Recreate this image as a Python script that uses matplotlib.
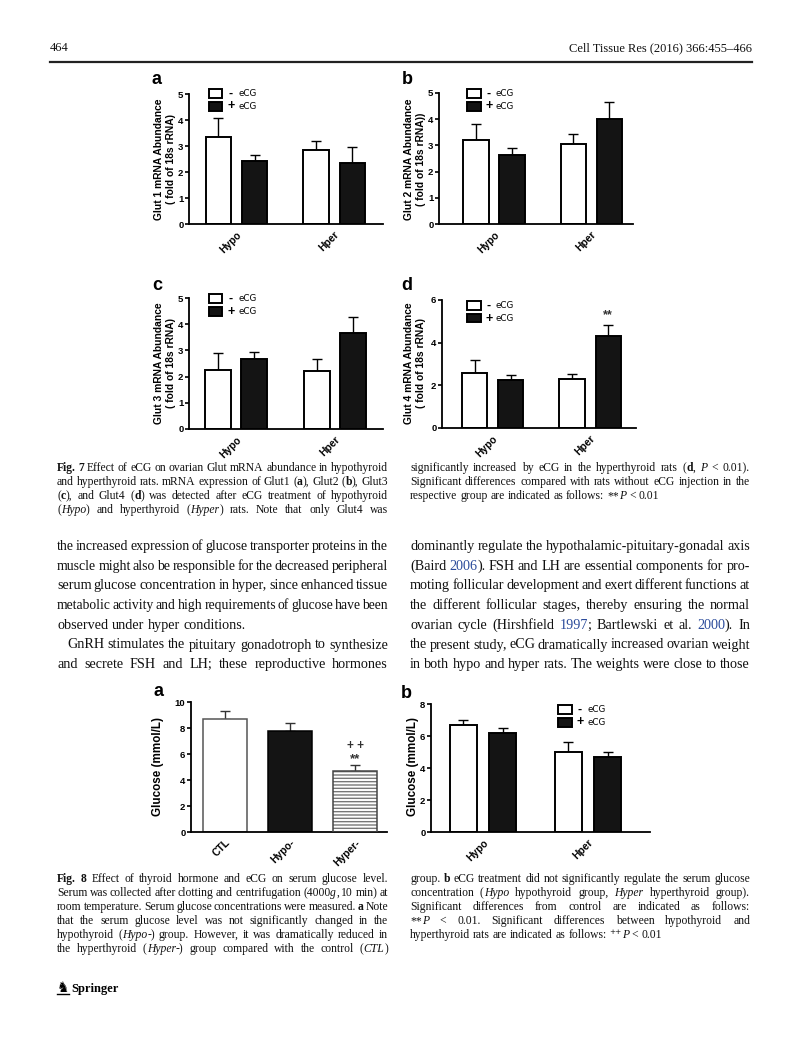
import matplotlib
matplotlib.use("Agg")
import matplotlib.pyplot as plt
import numpy as np
from matplotlib.patches import Rectangle
from matplotlib.lines import Line2D

W, H = 793, 1054

# Fig. 7 data (mean, upper SEM)
groups = ["Hypo", "Hper"]
glut1_minus = [3.33, 2.86]
glut1_minus_err = [0.73, 0.34]
glut1_plus = [2.42, 2.33]
glut1_plus_err = [0.22, 0.64]

glut2_minus = [3.21, 3.05]
glut2_minus_err = [0.60, 0.39]
glut2_plus = [2.64, 3.99]
glut2_plus_err = [0.25, 0.68]

glut3_minus = [2.25, 2.22]
glut3_minus_err = [0.65, 0.45]
glut3_plus = [2.66, 3.65]
glut3_plus_err = [0.27, 0.61]

glut4_minus = [2.58, 2.31]
glut4_minus_err = [0.59, 0.20]
glut4_plus = [2.23, 4.30]
glut4_plus_err = [0.24, 0.55]

# Fig. 8 data
glucose_groups = ["CTL", "Hypo-", "Hyper-"]
glucose_means = [8.66, 7.78, 4.66]
glucose_err = [0.67, 0.57, 0.47]

glucose_ecg_minus = [6.68, 4.99]
glucose_ecg_minus_err = [0.33, 0.61]
glucose_ecg_plus = [6.16, 4.70]
glucose_ecg_plus_err = [0.37, 0.33]

SANS = "Liberation Sans"
SERIF = ["Liberation Serif", "DejaVu Serif"]

fig = plt.figure(figsize=(W / 100, H / 100), dpi=100)
renderer = fig.canvas.get_renderer()


def fx(x):
    return x / W


def fy(y):
    return 1 - y / H


def make_axes(left, top, right, bottom):
    return fig.add_axes([fx(left), fy(bottom), (right - left) / W, (bottom - top) / H])


def style_axes(ax, ymax, step, labels, xlim):
    ax.set_ylim(0, ymax)
    ax.set_xlim(*xlim)
    ticks = np.arange(0, ymax + 0.01, step)
    ax.set_yticks(ticks)
    ax.set_yticklabels([str(int(t)) for t in ticks], fontfamily=SANS,
                       fontweight="bold", fontsize=6.8)
    ax.set_xticks(range(len(labels)))
    ax.set_xticklabels(labels, rotation=45, ha="right", rotation_mode="anchor",
                       fontfamily=SANS, fontweight="bold", fontsize=7.4)
    for s in ["top", "right"]:
        ax.spines[s].set_visible(False)
    for s in ["left", "bottom"]:
        ax.spines[s].set_linewidth(1.3)
    ax.tick_params(axis="y", length=3, width=1.2, pad=1)
    ax.tick_params(axis="x", length=0, pad=4)


def grouped(ax, minus, minus_err, plus, plus_err, off, width):
    x = np.arange(len(minus))
    ax.bar(x - off, minus, width, color="white", edgecolor="black", linewidth=1.4, zorder=2)
    ax.bar(x + off, plus, width, color="#141414", edgecolor="black", linewidth=1.4, zorder=2)
    ax.errorbar(x - off, minus, yerr=[np.zeros(len(minus)), minus_err], fmt="none",
                ecolor="black", elinewidth=1, capsize=3.4, capthick=1, zorder=1)
    ax.errorbar(x + off, plus, yerr=[np.zeros(len(plus)), plus_err], fmt="none",
                ecolor="black", elinewidth=1, capsize=3.4, capthick=1, zorder=1)


def legend_px(x, y):
    # small hand-drawn key: white box "- eCG", black box "+ eCG"
    for i, (fc, sign) in enumerate([("white", "-"), ("#141414", "+")]):
        yy = y + i * 13
        fig.add_artist(Rectangle((fx(x), fy(yy + 8.5)), 13.5 / W, 8.5 / H,
                                 facecolor=fc, edgecolor="black", linewidth=1.4))
        fig.text(fx(x + 22), fy(yy + 4.5), sign, fontfamily=SANS, fontweight="bold",
                 fontsize=9, ha="center", va="center")
        fig.text(fx(x + 29), fy(yy + 4.5), "eCG", fontfamily="DejaVu Sans",
                 fontsize=6.3, ha="left", va="center")


def ylabel_px(x, y, text, size=7.4):
    fig.text(fx(x), fy(y), text, rotation=90, ha="center", va="center",
             fontfamily=SANS, fontweight="bold", fontsize=size, linespacing=1.15)


def letter_px(x, y, s):
    fig.text(fx(x), fy(y), s, ha="center", va="center", fontfamily=SANS,
             fontweight="bold", fontsize=13)


# ---------- Fig. 7 ----------
off, bw = 0.185, 0.26
panels = [
    ((189, 94, 383, 224), 5, 1, (-0.487, 1.50), (glut1_minus, glut1_minus_err, glut1_plus, glut1_plus_err),
     "Glut 1 mRNA Abundance\n( fold of 18s rRNA)", (165, 159), (157, 80), "a", (209, 89)),
    ((439, 93, 633, 224), 5, 1, (-0.567, 1.43), (glut2_minus, glut2_minus_err, glut2_plus, glut2_plus_err),
     "Glut 2 mRNA Abundance\n( fold of 18s rRNA))", (415, 159), (407, 79), "b", (467, 89)),
    ((189, 298, 383, 429), 5, 1, (-0.475, 1.485), (glut3_minus, glut3_minus_err, glut3_plus, glut3_plus_err),
     "Glut 3 mRNA Abundance\n( fold of 18s rRNA)", (165, 363), (157, 286), "c", (209, 294)),
    ((442, 300, 636, 428), 6, 2, (-0.52, 1.47), (glut4_minus, glut4_minus_err, glut4_plus, glut4_plus_err),
     "Glut 4 mRNA Abundance\n( fold of 18s rRNA)", (415, 363), (407, 285), "d", (467, 301)),
]
axes7 = []
for rect, ymax, step, xlim, data, ylab, ylpos, lpos, letter, legpos in panels:
    ax = make_axes(*rect)
    grouped(ax, *data, off=off, width=bw)
    style_axes(ax, ymax, step, groups, xlim)
    ylabel_px(*ylpos, ylab)
    letter_px(*lpos, letter)
    legend_px(*legpos)
    axes7.append(ax)

# significance mark on Glut4, Hper + eCG
axes7[3].text(1 + off, 5.3, "**", ha="center", va="center", fontfamily=SANS,
              fontweight="bold", fontsize=9, color="#333333")

# ---------- Fig. 8a ----------
ax8a = make_axes(191, 702, 387, 832)
xa = np.arange(len(glucose_groups))
ax8a.bar(xa[:2], glucose_means[:2], 0.68, color=["white", "#141414"],
         edgecolor=["#555555", "black"], linewidth=1.1, zorder=2)
ax8a.bar(xa[2], glucose_means[2], 0.68, color="white", edgecolor="#777777",
         hatch="-----", linewidth=0, zorder=2)
ax8a.bar(xa[2], glucose_means[2], 0.68, color="none", edgecolor="#444444",
         linewidth=1.1, zorder=3)
ax8a.errorbar(xa, glucose_means, yerr=[np.zeros(3), glucose_err], fmt="none",
              ecolor="#333333", elinewidth=1, capsize=3.6, capthick=1, zorder=1)
style_axes(ax8a, 10, 2, glucose_groups, (-0.523, 2.49))
ax8a.text(xa[2], 5.62, "**", ha="center", va="center", fontfamily=SANS,
          fontweight="bold", fontsize=9.5, color="#333333")
ax8a.text(xa[2], 6.62, "+ +", ha="center", va="center", fontfamily=SANS,
          fontweight="bold", fontsize=8.5, color="#333333")
ylabel_px(158, 767, "Glucose (mmol/L)", size=8.4)
letter_px(158, 692, "a")

# ---------- Fig. 8b ----------
ax8b = make_axes(431, 704, 650, 832)
grouped(ax8b, glucose_ecg_minus, glucose_ecg_minus_err, glucose_ecg_plus,
        glucose_ecg_plus_err, off=0.186, width=0.257)
style_axes(ax8b, 8, 2, groups, (-0.495, 1.59))
ylabel_px(413, 767, "Glucose (mmol/L)", size=8.4)
letter_px(406, 693, "b")
legend_px(558, 705)


# ---------- page text ----------
def parse(s):
    runs, buf = [], ""
    style = {"b": False, "i": False, "c": False}
    marks = {"@": "b", "~": "i", "^": "c"}
    for ch in s:
        if ch in marks:
            if buf:
                runs.append((buf, dict(style)))
            buf = ""
            style[marks[ch]] = not style[marks[ch]]
        else:
            buf += ch
    if buf:
        runs.append((buf, dict(style)))
    return runs


def split_words(s):
    words, cur = [], []
    for txt, st in parse(s):
        parts = txt.split(" ")
        for i, p in enumerate(parts):
            if i > 0 and cur:
                words.append(cur)
                cur = []
            if p:
                cur.append((p, st))
    if cur:
        words.append(cur)
    return words


def build(words, y, size):
    objs, widths = [], []
    for w in words:
        wo, ww = [], 0
        for txt, st in w:
            t = fig.text(0, fy(y), txt, fontfamily=SERIF, fontsize=size,
                         fontweight="bold" if st["b"] else "normal",
                         fontstyle="italic" if st["i"] else "normal",
                         color="#2b4b9b" if st["c"] else "#111111", va="baseline")
            wd = t.get_window_extent(renderer).width
            wo.append((t, wd))
            ww += wd
        objs.append(wo)
        widths.append(ww)
    return objs, widths


def text_line(s, x0, x1, y, size, justify=True, indent=0):
    words = split_words(s)
    start = x0 + indent
    n = len(words)
    while True:
        objs, widths = build(words, y, size)
        space = size * 0.25 * 100 / 72
        total = sum(widths)
        if n > 1 and total + 0.4 * space * (n - 1) > x1 - start and size > 5:
            for wo in objs:
                for t, _ in wo:
                    t.remove()
            size *= 0.98
            continue
        break
    if justify and n > 1:
        gap = (x1 - start - total) / (n - 1)
    else:
        gap = space
    x = start
    for wo, ww in zip(objs, widths):
        xx = x
        for t, wd in wo:
            t.set_x(fx(xx))
            xx += wd
        x += ww + gap


def paragraph(lines, x0, x1, y0, dy, size, last_left=(), indents=None):
    for i, ln in enumerate(lines):
        ind = indents.get(i, 0) if indents else 0
        text_line(ln, x0, x1, y0 + i * dy, size, justify=i not in last_left, indent=ind)


LX0, LX1, RX0, RX1 = 57, 388, 410, 750

# header
fig.text(fx(50), fy(51), "464", fontfamily=SERIF, fontsize=9, va="baseline", color="#111111")
fig.text(fx(752), fy(51), "Cell Tissue Res (2016) 366:455\u2013466", fontfamily=SERIF,
         fontsize=9, va="baseline", ha="right", color="#111111")
fig.add_artist(Line2D([fx(50), fx(752)], [fy(62), fy(62)], color="#222222", linewidth=1.6))

fig7_left = [
    "@Fig. 7@  Effect of eCG on ovarian Glut mRNA abundance in hypothyroid",
    "and hyperthyroid rats. mRNA expression of Glut1 (@a@), Glut2 (@b@), Glut3",
    "(@c@), and Glut4 (@d@) was detected after eCG treatment of hypothyroid",
    "(~Hypo~) and hyperthyroid (~Hyper~) rats. Note that only Glut4 was",
]
fig7_right = [
    "significantly increased by eCG in the hyperthyroid rats (@d@, ~P~ < 0.01).",
    "Significant differences compared with rats without eCG injection in the",
    "respective group are indicated as follows: **~P~ < 0.01",
]
paragraph(fig7_left, LX0, LX1, 471, 14, 8.4)
paragraph(fig7_right, RX0, RX1, 471, 14, 8.4, last_left=(2,))

body_left = [
    "the increased expression of glucose transporter proteins in the",
    "muscle might also be responsible for the decreased peripheral",
    "serum glucose concentration in hyper, since enhanced tissue",
    "metabolic activity and high requirements of glucose have been",
    "observed under hyper conditions.",
    "GnRH stimulates the pituitary gonadotroph to synthesize",
    "and secrete FSH and LH; these reproductive hormones",
]
body_right = [
    "dominantly regulate the hypothalamic-pituitary-gonadal axis",
    "(Baird ^2006^). FSH and LH are essential components for pro-",
    "moting follicular development and exert different functions at",
    "the different follicular stages, thereby ensuring the normal",
    "ovarian cycle (Hirshfield ^1997^; Bartlewski et al. ^2000^). In",
    "the present study, eCG dramatically increased ovarian weight",
    "in both hypo and hyper rats. The weights were close to those",
]
paragraph(body_left, LX0, LX1, 550, 19.7, 10.2, last_left=(4,), indents={5: 10})
paragraph(body_right, RX0, RX1, 550, 19.7, 10.2)

fig8_left = [
    "@Fig. 8@  Effect of thyroid hormone and eCG on serum glucose level.",
    "Serum was collected after clotting and centrifugation (4000~g~, 10 min) at",
    "room temperature. Serum glucose concentrations were measured. @a@ Note",
    "that the serum glucose level was not significantly changed in the",
    "hypothyroid (~Hypo~-) group. However, it was dramatically reduced in",
    "the hyperthyroid (~Hyper~-) group compared with the control (~CTL~)",
]
fig8_right = [
    "group. @b@ eCG treatment did not significantly regulate the serum glucose",
    "concentration (~Hypo~ hypothyroid group, ~Hyper~ hyperthyroid group).",
    "Significant differences from control are indicated as follows:",
    "**~P~ < 0.01. Significant differences between hypothyroid and",
    "hyperthyroid rats are indicated as follows: \u207a\u207a~P~ < 0.01",
]
paragraph(fig8_left, LX0, LX1, 882, 14, 8.4)
paragraph(fig8_right, RX0, RX1, 882, 14, 8.4, last_left=(4,))

# Springer logo
fig.text(fx(57), fy(992), "\u265e", fontfamily="DejaVu Sans", fontsize=10, va="baseline")
fig.add_artist(Line2D([fx(57), fx(69)], [fy(994), fy(994)], color="black", linewidth=1))
fig.text(fx(71), fy(992), "Springer", fontfamily=SERIF, fontweight="bold",
         fontsize=9, va="baseline")

fig.savefig("out.png", dpi=100)
